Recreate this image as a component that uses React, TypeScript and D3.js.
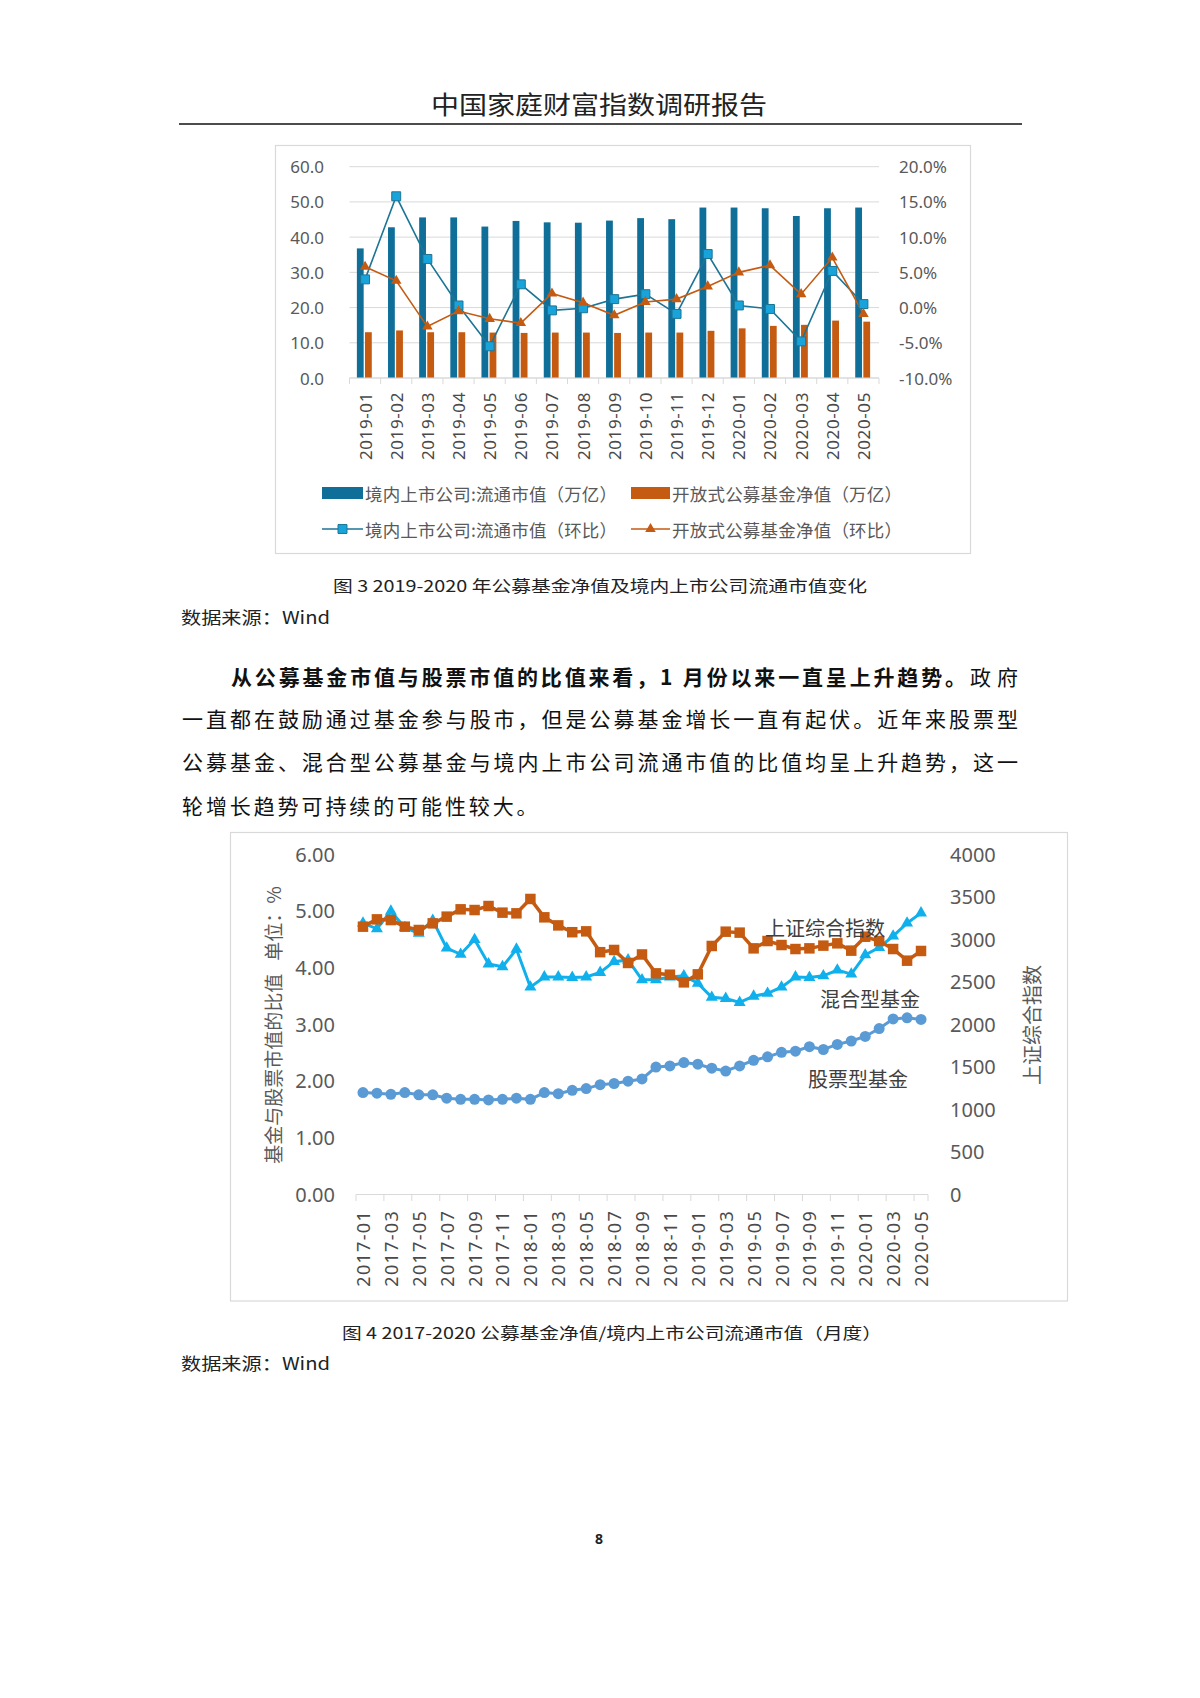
import React from 'react';
import * as d3 from 'd3';

// ---------- Chart 1 data ----------
const months1 = ['2019-01','2019-02','2019-03','2019-04','2019-05','2019-06','2019-07','2019-08','2019-09','2019-10','2019-11','2019-12','2020-01','2020-02','2020-03','2020-04','2020-05'];
const marketCap = [36.8,42.8,45.6,45.6,43.0,44.6,44.2,44.1,44.7,45.4,45.1,48.4,48.4,48.2,46.0,48.2,48.4];
const fundNav = [13.0,13.5,13.0,13.0,12.9,12.8,12.9,12.9,12.8,12.9,12.9,13.4,14.1,14.8,15.1,16.3,16.0];
const marketCapMoM = [4.0,15.8,6.9,0.3,-5.5,3.3,-0.4,-0.1,1.2,1.9,-0.9,7.6,0.3,-0.2,-4.8,5.2,0.5];
const fundNavMoM = [5.8,3.8,-2.7,-0.5,-1.6,-2.2,2.0,0.7,-1.1,0.8,1.2,3.0,5.0,6.0,1.9,7.1,-0.9];
const leftTicks1 = [0,10,20,30,40,50,60];
const rightTicks1 = [-10,-5,0,5,10,15,20];

// ---------- Chart 2 data ----------
const months2 = ['2017-01','2017-02','2017-03','2017-04','2017-05','2017-06','2017-07','2017-08','2017-09','2017-10','2017-11','2017-12',
  '2018-01','2018-02','2018-03','2018-04','2018-05','2018-06','2018-07','2018-08','2018-09','2018-10','2018-11','2018-12',
  '2019-01','2019-02','2019-03','2019-04','2019-05','2019-06','2019-07','2019-08','2019-09','2019-10','2019-11','2019-12',
  '2020-01','2020-02','2020-03','2020-04','2020-05'];
const stockFund = [1.79,1.78,1.76,1.79,1.75,1.75,1.69,1.67,1.67,1.66,1.67,1.69,1.67,1.79,1.77,1.83,1.86,1.93,1.95,1.99,2.03,2.24,2.26,2.32,2.29,2.22,2.17,2.26,2.36,2.42,2.50,2.52,2.60,2.55,2.64,2.70,2.78,2.92,3.09,3.11,3.08];
const mixedFund = [4.78,4.68,4.99,4.70,4.60,4.83,4.34,4.23,4.49,4.06,4.01,4.32,3.65,3.83,3.83,3.82,3.83,3.91,4.10,4.13,3.78,3.78,3.83,3.85,3.72,3.47,3.45,3.38,3.49,3.54,3.65,3.83,3.82,3.85,3.95,3.88,4.22,4.35,4.55,4.78,4.96];
const sseIndex = [3145,3231,3223,3145,3106,3184,3263,3349,3341,3388,3310,3302,3471,3255,3160,3080,3090,2845,2871,2718,2818,2596,2580,2490,2584,2918,3086,3075,2890,2976,2929,2882,2890,2922,2949,2863,3027,2976,2882,2745,2859];
const leftTicks2 = [0,1,2,3,4,5,6];
const rightTicks2 = [0,500,1000,1500,2000,2500,3000,3500,4000];
const xLabels2 = ['2017-01','2017-03','2017-05','2017-07','2017-09','2017-11','2018-01','2018-03','2018-05','2018-07','2018-09','2018-11','2019-01','2019-03','2019-05','2019-07','2019-09','2019-11','2020-01','2020-03','2020-05'];

const FONT = '"Noto Sans", "Noto Sans CJK SC", sans-serif';
const CJK = '"Noto Sans CJK SC", "Noto Sans", sans-serif';

function Chart1() {
  const x = d3.scaleBand<string>().domain(months1).range([349.5, 879]);
  const y = d3.scaleLinear().domain([0, 60]).range([378, 166.7]);
  const yr = d3.scaleLinear().domain([-10, 20]).range([378, 166.7]);
  const c = (m: string) => (x(m) as number) + x.bandwidth() / 2;
  const lineBlue = d3.line<number>().x((_, i) => c(months1[i])).y(d => yr(d));
  const lineOrange = d3.line<number>().x((_, i) => c(months1[i])).y(d => yr(d));
  const sq = d3.symbol(d3.symbolSquare, 80)();
  const tri = d3.symbol(d3.symbolTriangle, 48)();
  const blue = '#0f6f99';
  const orange = '#c55a11';
  return (
    <g>
      <rect x={275.5} y={145.5} width={695} height={408} fill="#fff" stroke="#d9d9d9" strokeWidth={1.2} />
      {leftTicks1.map(t => (
        <line key={t} x1={349.5} x2={879} y1={y(t)} y2={y(t)} stroke="#d9d9d9" strokeWidth={1} />
      ))}
      {leftTicks1.map(t => (
        <text key={'l' + t} x={324} y={y(t)} textAnchor="end" dominantBaseline="central" fontSize={17} fill="#595959" fontFamily={FONT}>{t.toFixed(1)}</text>
      ))}
      {rightTicks1.map(t => (
        <text key={'r' + t} x={899} y={yr(t)} textAnchor="start" dominantBaseline="central" fontSize={17} fill="#595959" fontFamily={FONT}>{t.toFixed(1) + '%'}</text>
      ))}
      {months1.map((m, i) => (
        <g key={m}>
          <rect x={c(m) - 8.2} y={y(marketCap[i])} width={6.8} height={y(0) - y(marketCap[i])} fill={blue} />
          <rect x={c(m) - 0.1} y={y(fundNav[i])} width={6.8} height={y(0) - y(fundNav[i])} fill={orange} />
        </g>
      ))}
      <line x1={349.5} x2={879} y1={378} y2={378} stroke="#d9d9d9" strokeWidth={1} />
      {months1.map(m => (
        <line key={'t' + m} x1={x(m) as number} x2={x(m) as number} y1={378} y2={384} stroke="#d9d9d9" />
      ))}
      <line x1={879} x2={879} y1={378} y2={384} stroke="#d9d9d9" />
      <path d={lineBlue(marketCapMoM) || ''} fill="none" stroke="#1d7596" strokeWidth={1.6} />
      <path d={lineOrange(fundNavMoM) || ''} fill="none" stroke={orange} strokeWidth={1.6} />
      {marketCapMoM.map((v, i) => (
        <path key={'s' + i} d={sq || ''} transform={`translate(${c(months1[i])},${yr(v)})`} fill="#18a4da" stroke="#1d7596" strokeWidth={1} />
      ))}
      {fundNavMoM.map((v, i) => (
        <path key={'tr' + i} d={tri || ''} transform={`translate(${c(months1[i])},${yr(v)})`} fill={orange} />
      ))}
      {months1.map(m => (
        <text key={'x' + m} transform={`translate(${c(m)},392) rotate(-90)`} textAnchor="end" dominantBaseline="central" fontSize={17} letterSpacing={0.6} fill="#4a4a4a" fontFamily={FONT}>{m}</text>
      ))}
      {/* legend */}
      <rect x={322} y={487} width={41} height={12} fill={blue} />
      <text x={365} y={493} dominantBaseline="central" fontSize={17.5} textLength={252} lengthAdjust="spacing" fill="#595959" fontFamily={CJK}>境内上市公司:流通市值（万亿）</text>
      <rect x={631} y={487} width={39} height={12} fill={orange} />
      <text x={672} y={493} dominantBaseline="central" fontSize={17.5} textLength={230} lengthAdjust="spacing" fill="#595959" fontFamily={CJK}>开放式公募基金净值（万亿）</text>
      <line x1={322} x2={363} y1={529} y2={529} stroke="#1d7596" strokeWidth={1.6} />
      <path d={sq || ''} transform="translate(342.5,529)" fill="#18a4da" stroke="#1d7596" strokeWidth={1} />
      <text x={365} y={529} dominantBaseline="central" fontSize={17.5} textLength={252} lengthAdjust="spacing" fill="#595959" fontFamily={CJK}>境内上市公司:流通市值（环比）</text>
      <line x1={631} x2={670} y1={529} y2={529} stroke={orange} strokeWidth={1.6} />
      <path d={tri || ''} transform="translate(650.5,529)" fill={orange} />
      <text x={672} y={529} dominantBaseline="central" fontSize={17.5} textLength={230} lengthAdjust="spacing" fill="#595959" fontFamily={CJK}>开放式公募基金净值（环比）</text>
    </g>
  );
}

function Chart2() {
  const x = d3.scaleBand<string>().domain(months2).range([356, 928]);
  const y = d3.scaleLinear().domain([0, 6]).range([1194, 854]);
  const yr = d3.scaleLinear().domain([0, 4000]).range([1194, 854]);
  const c = (m: string) => (x(m) as number) + x.bandwidth() / 2;
  const lineL = d3.line<number>().x((_, i) => c(months2[i])).y(d => y(d));
  const lineR = d3.line<number>().x((_, i) => c(months2[i])).y(d => yr(d));
  const sq = d3.symbol(d3.symbolSquare, 110)();
  const tri = d3.symbol(d3.symbolTriangle, 62)();
  const circ = d3.symbol(d3.symbolCircle, 95)();
  const orange = '#c55a11';
  const cyan = '#0fb0ec';
  const lblue = '#5b9bd5';
  const tickIdx = months2.map((_, i) => i).filter(i => i % 2 === 0);
  return (
    <g>
      <rect x={230.5} y={832.5} width={837} height={468.5} fill="#fff" stroke="#d9d9d9" strokeWidth={1.2} />
      {leftTicks2.map(t => (
        <text key={'l' + t} x={335} y={y(t)} textAnchor="end" dominantBaseline="central" fontSize={20} fill="#595959" fontFamily={FONT}>{t.toFixed(2)}</text>
      ))}
      {rightTicks2.map(t => (
        <text key={'r' + t} x={950} y={yr(t)} textAnchor="start" dominantBaseline="central" fontSize={20} fill="#595959" fontFamily={FONT}>{t}</text>
      ))}
      <line x1={356} x2={928} y1={1194.5} y2={1194.5} stroke="#d9d9d9" strokeWidth={1.2} />
      {tickIdx.map(i => (
        <line key={'t' + i} x1={x(months2[i]) as number} x2={x(months2[i]) as number} y1={1194.5} y2={1201} stroke="#d9d9d9" />
      ))}
      <line x1={928} x2={928} y1={1194.5} y2={1201} stroke="#d9d9d9" />
      <path d={lineL(stockFund) || ''} fill="none" stroke={lblue} strokeWidth={3} />
      {stockFund.map((v, i) => (
        <path key={'c' + i} d={circ || ''} transform={`translate(${c(months2[i])},${y(v)})`} fill={lblue} />
      ))}
      <path d={lineL(mixedFund) || ''} fill="none" stroke={cyan} strokeWidth={3} />
      {mixedFund.map((v, i) => (
        <path key={'tr' + i} d={tri || ''} transform={`translate(${c(months2[i])},${y(v)})`} fill={cyan} />
      ))}
      <path d={lineR(sseIndex) || ''} fill="none" stroke={orange} strokeWidth={3.5} />
      {sseIndex.map((v, i) => (
        <path key={'s' + i} d={sq || ''} transform={`translate(${c(months2[i])},${yr(v)})`} fill={orange} />
      ))}
      {xLabels2.map(m => (
        <text key={'x' + m} transform={`translate(${c(m)},1210) rotate(-90)`} textAnchor="end" dominantBaseline="central" fontSize={18} letterSpacing={1.3} fill="#4a4a4a" fontFamily={FONT}>{m}</text>
      ))}
      <text x={765} y={927} dominantBaseline="central" fontSize={20} fill="#404040" fontFamily={CJK}>上证综合指数</text>
      <text x={820} y={998} dominantBaseline="central" fontSize={20} fill="#404040" fontFamily={CJK}>混合型基金</text>
      <text x={808} y={1078} dominantBaseline="central" fontSize={20} fill="#404040" fontFamily={CJK}>股票型基金</text>
      <text transform="translate(272,1025) rotate(-90)" textAnchor="middle" dominantBaseline="central" fontSize={19} fill="#595959" fontFamily={CJK}>{'基金与股票市值的比值\u00a0\u00a0\u00a0单位：%'}</text>
      <text transform="translate(1031,1025) rotate(-90)" textAnchor="middle" dominantBaseline="central" fontSize={20} fill="#595959" fontFamily={CJK}>上证综合指数</text>
    </g>
  );
}

export default function App() {
  return (
    <svg width={1200} height={1698} viewBox="0 0 1200 1698" style={{ position: 'absolute', left: 0, top: 0, background: '#fff' }}>
      <rect x={0} y={0} width={1200} height={1698} fill="#fff" />
      <text x={431} y={103} dominantBaseline="central" fontSize={25} textLength={336} lengthAdjust="spacingAndGlyphs" fill="#222" fontFamily={CJK}>中国家庭财富指数调研报告</text>
      <line x1={179} x2={1022} y1={124} y2={124} stroke="#111" strokeWidth={1.5} />
      <Chart1 />
      <text x={333} y={585} dominantBaseline="central" fontSize={16} textLength={534} lengthAdjust="spacingAndGlyphs" fill="#222" fontFamily={CJK}>图 3 2019-2020 年公募基金净值及境内上市公司流通市值变化</text>
      <text x={181} y={616} dominantBaseline="central" fontSize={17} textLength={149} lengthAdjust="spacingAndGlyphs" fill="#222" fontFamily={CJK}>数据来源：Wind</text>
      <text x={231} y={676} dominantBaseline="central" fontSize={21} fontWeight={700} textLength={735} lengthAdjust="spacing" fill="#111" fontFamily={CJK}>从公募基金市值与股票市值的比值来看，1 月份以来一直呈上升趋势。</text>
      <text x={970} y={676} dominantBaseline="central" fontSize={21} textLength={48} lengthAdjust="spacing" fill="#111" fontFamily={CJK}>政府</text>
      <text x={182} y={718} dominantBaseline="central" fontSize={21} textLength={836} lengthAdjust="spacing" fill="#111" fontFamily={CJK}>一直都在鼓励通过基金参与股市，但是公募基金增长一直有起伏。近年来股票型</text>
      <text x={182} y={761} dominantBaseline="central" fontSize={21} textLength={836} lengthAdjust="spacing" fill="#111" fontFamily={CJK}>公募基金、混合型公募基金与境内上市公司流通市值的比值均呈上升趋势，这一</text>
      <text x={182} y={805} dominantBaseline="central" fontSize={21} letterSpacing={2.9} fill="#111" fontFamily={CJK}>轮增长趋势可持续的可能性较大。</text>
      <Chart2 />
      <text x={342} y={1332} dominantBaseline="central" fontSize={16} textLength={540} lengthAdjust="spacingAndGlyphs" fill="#222" fontFamily={CJK}>图 4 2017-2020 公募基金净值/境内上市公司流通市值（月度）</text>
      <text x={181} y={1362} dominantBaseline="central" fontSize={17} textLength={149} lengthAdjust="spacingAndGlyphs" fill="#222" fontFamily={CJK}>数据来源：Wind</text>
      <text x={599} y={1538} textAnchor="middle" dominantBaseline="central" fontSize={14} fontWeight={700} fill="#222" fontFamily={FONT}>8</text>
    </svg>
  );
}
